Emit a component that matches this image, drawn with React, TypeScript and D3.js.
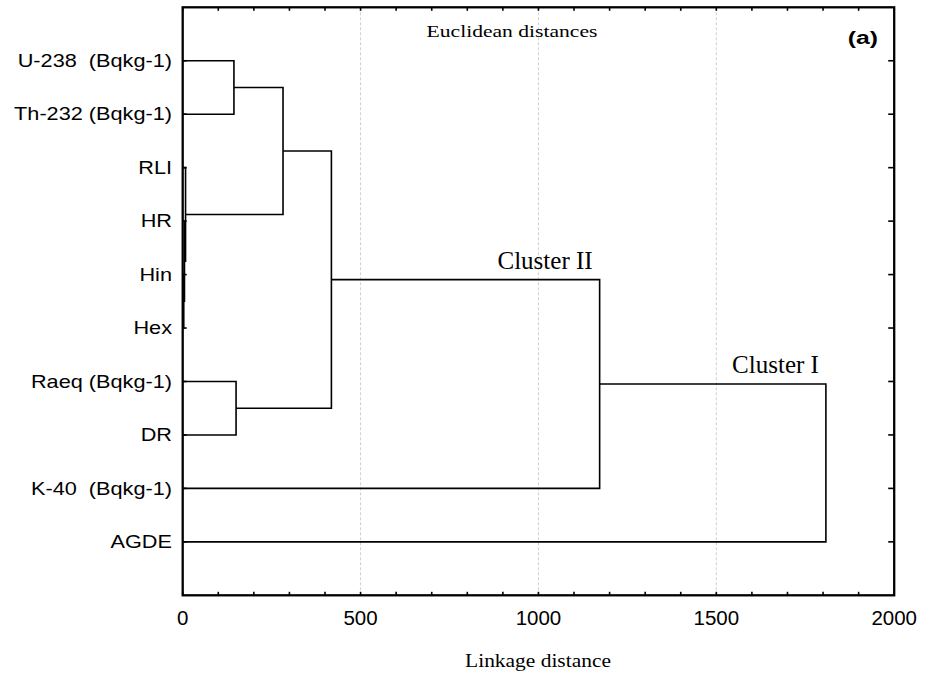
import * as d3 from "d3";

// leaves, top to bottom
const leafLabels = [
  "U-238  (Bqkg-1)",
  "Th-232 (Bqkg-1)",
  "RLI",
  "HR",
  "Hin",
  "Hex",
  "Raeq (Bqkg-1)",
  "DR",
  "K-40  (Bqkg-1)",
  "AGDE",
];

// merge k creates node 10 + k from nodes mergeA[k] and mergeB[k]
const mergeA = [4, 3, 2, 0, 13, 6, 14, 16, 17];
const mergeB = [5, 10, 11, 1, 12, 7, 15, 8, 9];
const mergeDist = [3, 5, 8, 144, 282, 150, 418, 1172, 1808];

const xTickValues = [0, 500, 1000, 1500, 2000];
const gridValues = [500, 1000, 1500];
const clusterNames = ["Cluster II", "Cluster I"];
const clusterMerges = [7, 8]; // label sits above the upper branch of these merges

const W = 925;
const H = 673;
const left = 182.7;
const right = 894.2;
const top = 7.3;
const bottom = 595.3;

const sans = "'Liberation Sans', Arial, sans-serif";
const serif = "'Liberation Serif', 'Times New Roman', serif";

export default function App() {
  const x = d3.scaleLinear().domain([0, 2000]).range([left, right]);
  const y = d3.scalePoint<number>().domain(d3.range(leafLabels.length)).range([top, bottom]).padding(1);

  // node positions
  const nodeX: number[] = leafLabels.map(() => 0);
  const nodeY: number[] = leafLabels.map((_, i) => y(i) as number);
  const paths: string[] = [];
  mergeA.forEach((a, k) => {
    const b = mergeB[k];
    const d = mergeDist[k];
    const p = d3.path();
    p.moveTo(x(nodeX[a]), nodeY[a]);
    p.lineTo(x(d), nodeY[a]);
    p.lineTo(x(d), nodeY[b]);
    p.lineTo(x(nodeX[b]), nodeY[b]);
    paths.push(p.toString());
    nodeX.push(d);
    nodeY.push((nodeY[a] + nodeY[b]) / 2);
  });

  const minorTicks = d3.range(0, 2001, 100);

  return (
    <svg width={W} height={H} style={{ position: "absolute", left: 0, top: 0, background: "#fff" }}>
      {/* grid */}
      {gridValues.map((v) => (
        <line key={v} x1={x(v)} x2={x(v)} y1={top} y2={bottom} stroke="#cfcfcf" strokeWidth={1} strokeDasharray="3,2" />
      ))}

      {/* dendrogram */}
      {paths.map((d, i) => (
        <path key={i} d={d} fill="none" stroke="#000" strokeWidth={1.6} />
      ))}

      {/* frame */}
      <rect x={left} y={top} width={right - left} height={bottom - top} fill="none" stroke="#000" strokeWidth={2.3} />

      {/* ticks */}
      {minorTicks.map((v) => (
        <g key={v}>
          <line x1={x(v)} x2={x(v)} y1={top} y2={top + 3.5} stroke="#000" strokeWidth={1.6} />
          <line x1={x(v)} x2={x(v)} y1={bottom} y2={bottom - 3.5} stroke="#000" strokeWidth={1.6} />
        </g>
      ))}
      {leafLabels.map((_, i) => (
        <g key={i}>
          <line x1={left} x2={left + 4} y1={y(i)} y2={y(i)} stroke="#000" strokeWidth={1.6} />
          <line x1={right} x2={right - 6} y1={y(i)} y2={y(i)} stroke="#000" strokeWidth={1.6} />
        </g>
      ))}

      {/* leaf labels */}
      {leafLabels.map((lab, i) => (
        <text
          key={lab}
          transform={`translate(172,${(y(i) as number) + 6.2}) scale(1.24,1)`}
          textAnchor="end"
          fontFamily={sans}
          fontSize={17.5}
          fill="#000"
          style={{ whiteSpace: "pre" }}
        >
          {lab}
        </text>
      ))}

      {/* x tick labels */}
      {xTickValues.map((v) => (
        <text key={v} x={x(v)} y={625} textAnchor="middle" fontFamily={sans} fontSize={20.5} fill="#000">
          {v}
        </text>
      ))}

      {/* cluster labels */}
      {clusterNames.map((name, i) => {
        const k = clusterMerges[i];
        return (
          <text
            key={name}
            x={x(mergeDist[k]) - 7}
            y={nodeY[mergeA[k]] - 11}
            textAnchor="end"
            fontFamily={serif}
            fontSize={25}
            fill="#000"
          >
            {name}
          </text>
        );
      })}

      {/* titles */}
      <text transform="translate(512,36.5) scale(1.22,1)" textAnchor="middle" fontFamily={serif} fontSize={17.7} fill="#000">
        Euclidean distances
      </text>
      <text transform="translate(538,666.5) scale(1.1,1)" textAnchor="middle" fontFamily={serif} fontSize={19.5} fill="#000">
        Linkage distance
      </text>
      <text transform="translate(878,44) scale(1.3,1)" textAnchor="end" fontFamily={sans} fontWeight="bold" fontSize={19} fill="#000">
        (a)
      </text>
    </svg>
  );
}
